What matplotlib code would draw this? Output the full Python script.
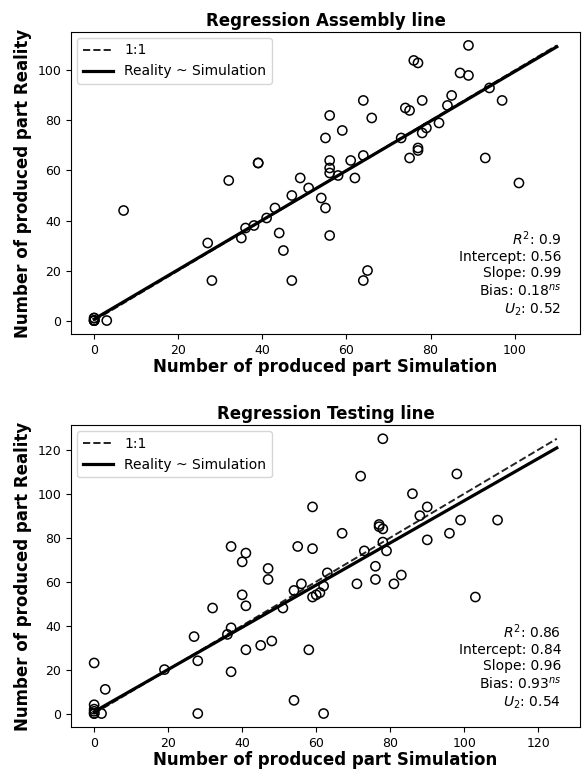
import matplotlib
matplotlib.use("Agg")
import matplotlib.pyplot as plt
import numpy as np

# Assembly line: simulation vs reality
asm_sim = [0, 0, 0, 0, 0, 0, 3, 7, 27, 28, 32, 35, 36, 38, 39, 39, 41, 43, 44, 45,
           47, 47, 49, 51, 54, 55, 55, 56, 56, 56, 56, 56, 58, 59, 61, 62, 64, 64, 64, 65,
           66, 73, 74, 75, 75, 76, 77, 77, 77, 78, 78, 79, 82, 84, 85, 87, 89, 89, 93, 94,
           97, 101]
asm_real = [0, 0, 0, 1, 0, 1, 0, 44, 31, 16, 56, 33, 37, 38, 63, 63, 41, 45, 35, 28,
            50, 16, 57, 53, 49, 45, 73, 82, 64, 61, 59, 34, 58, 76, 64, 57, 66, 88, 16, 20,
            81, 73, 85, 84, 65, 104, 103, 69, 68, 88, 75, 77, 79, 86, 90, 99, 98, 110, 65, 93,
            88, 55]
asm_fit = (0.56, 0.99)  # intercept, slope
asm_stats = ["$R^2$: 0.9", "Intercept: 0.56", "Slope: 0.99", "Bias: 0.18$^{ns}$", "$U_2$: 0.52"]

# Testing line: simulation vs reality
test_sim = [0, 0, 0, 0, 0, 0, 2, 3, 19, 27, 28, 28, 32, 36, 37, 37, 37, 40, 40, 41,
            41, 41, 45, 47, 47, 48, 51, 54, 54, 55, 56, 58, 59, 59, 59, 60, 61, 62, 62, 63,
            67, 71, 72, 73, 76, 76, 77, 77, 78, 78, 78, 79, 81, 83, 86, 88, 90, 90, 96, 98,
            99, 103, 109]
test_real = [23, 4, 2, 1, 0, 0, 0, 11, 20, 35, 24, 0, 48, 36, 39, 19, 76, 69, 54, 73,
             49, 29, 31, 66, 61, 33, 48, 56, 6, 76, 59, 29, 94, 75, 53, 54, 55, 58, 0, 64,
             82, 59, 108, 74, 67, 61, 86, 85, 84, 125, 78, 74, 59, 63, 100, 90, 94, 79, 82, 109,
             88, 53, 88]
test_fit = (0.84, 0.96)
test_stats = ["$R^2$: 0.86", "Intercept: 0.84", "Slope: 0.96", "Bias: 0.93$^{ns}$", "$U_2$: 0.54"]

panels = [
    ("Regression Assembly line", asm_sim, asm_real, asm_fit, asm_stats,
     [0.1216, 0.5703, 0.8714, 0.389]),
    ("Regression Testing line", test_sim, test_real, test_fit, test_stats,
     [0.1216, 0.0652, 0.8714, 0.3885]),
]

fig = plt.figure(figsize=(5.84, 7.78), dpi=100)

for title, sim, real, fit, stats, pos in panels:
    ax = fig.add_axes(pos)
    top = max(max(sim), max(real))
    xs = np.array([0, top])
    ax.plot(xs, xs, linestyle="--", color="#222222", lw=1.4, label="1:1")
    ax.plot(xs, fit[0] + fit[1] * xs, color="black", lw=2.3, label="Reality ~ Simulation")
    ax.scatter(sim, real, s=44, facecolors="none", edgecolors="black", linewidths=1.1, zorder=3)
    ax.set_title(title, fontsize=12, fontweight="bold", pad=4)
    ax.set_xlabel("Number of produced part Simulation", fontsize=12, fontweight="bold", labelpad=1)
    ax.set_ylabel("Number of produced part Reality", fontsize=12, fontweight="bold", labelpad=4)
    ax.tick_params(labelsize=9)
    ax.legend(loc="upper left", fontsize=10, handlelength=2.2, borderaxespad=0.45)
    ax.text(0.963, 0.055, "\n".join(stats), transform=ax.transAxes, ha="right", va="bottom",
            multialignment="right", fontsize=10, linespacing=1.2)

fig.savefig("out.png", dpi=100)
